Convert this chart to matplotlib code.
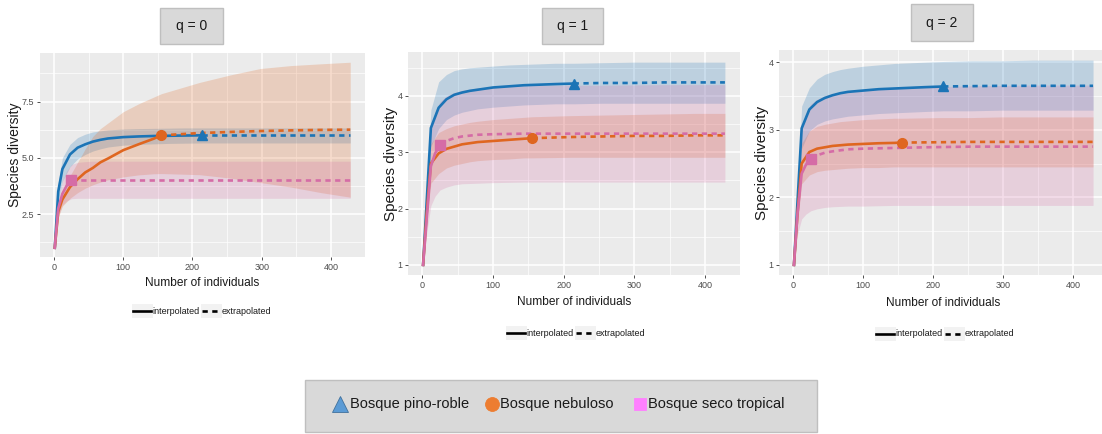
import matplotlib
matplotlib.use("Agg")
import matplotlib.pyplot as plt
from matplotlib.patches import Rectangle
from matplotlib.lines import Line2D
from matplotlib.ticker import MultipleLocator

plt.rcParams["font.family"] = ["Liberation Sans", "DejaVu Sans"]

W, H = 1102, 434

# sample-size knots per site (interpolated up to n, extrapolated after)
pr_n, nb_n, st_n = 214, 155, 25
pr_x = [1, 6, 12, 23, 34, 45, 56, 67, 78, 100, 122, 144, 166, 188, 214, 254, 298, 342, 386, 428]
nb_x = [1, 6, 12, 23, 34, 45, 56, 67, 78, 100, 122, 144, 155, 210, 254, 298, 342, 386, 428]
st_x = [1, 6, 12, 18, 25, 34, 45, 56, 78, 100, 144, 188, 254, 342, 428]

# q = 0 (richness)
pr_q0 = [1.0, 3.5, 4.5, 5.15, 5.45, 5.6, 5.72, 5.8, 5.86, 5.92, 5.95, 5.97, 5.98, 5.99, 6.0, 6.0, 6.0, 6.0, 6.0, 6.0]
pr_q0_lo = [1.0, 3.1, 3.95, 4.6, 4.95, 5.15, 5.3, 5.4, 5.48, 5.56, 5.6, 5.62, 5.64, 5.65, 5.66, 5.66, 5.66, 5.66, 5.66, 5.66]
pr_q0_hi = [1.0, 3.9, 5.0, 5.6, 5.9, 6.05, 6.15, 6.2, 6.24, 6.28, 6.3, 6.31, 6.32, 6.33, 6.33, 6.33, 6.33, 6.33, 6.33, 6.33]
nb_q0 = [1.0, 2.6, 3.15, 3.7, 4.05, 4.35, 4.55, 4.8, 4.97, 5.34, 5.6, 5.85, 6.0, 6.1, 6.15, 6.19, 6.22, 6.24, 6.25]
nb_q0_lo = [1.0, 2.35, 2.85, 3.2, 3.45, 3.65, 3.8, 3.92, 4.02, 4.15, 4.24, 4.29, 4.3, 4.25, 4.1, 3.9, 3.7, 3.45, 3.25]
nb_q0_hi = [1.0, 2.85, 3.45, 4.2, 4.8, 5.4, 5.95, 6.3, 6.55, 7.05, 7.4, 7.7, 7.85, 8.35, 8.68, 8.97, 9.1, 9.18, 9.25]
st_q0 = [1.0, 2.75, 3.4, 3.75, 4.0, 4.0, 4.0, 4.0, 4.0, 4.0, 4.0, 4.0, 4.0, 4.0, 4.0]
st_q0_lo = [1.0, 2.4, 2.9, 3.08, 3.18, 3.2, 3.2, 3.2, 3.2, 3.2, 3.2, 3.2, 3.2, 3.2, 3.2]
st_q0_hi = [1.0, 3.1, 3.95, 4.4, 4.7, 4.8, 4.83, 4.85, 4.85, 4.85, 4.85, 4.85, 4.85, 4.85, 4.85]

# q = 1 (Shannon)
pr_q1 = [1.0, 2.1, 3.43, 3.79, 3.94, 4.02, 4.06, 4.09, 4.11, 4.15, 4.17, 4.19, 4.2, 4.21, 4.22, 4.23, 4.23, 4.24, 4.24, 4.24]
pr_q1_lo = [1.0, 1.9, 3.1, 3.42, 3.58, 3.66, 3.71, 3.74, 3.77, 3.8, 3.82, 3.84, 3.85, 3.86, 3.86, 3.87, 3.87, 3.87, 3.87, 3.87]
pr_q1_hi = [1.0, 2.3, 3.75, 4.25, 4.38, 4.45, 4.48, 4.5, 4.51, 4.53, 4.55, 4.56, 4.57, 4.58, 4.58, 4.59, 4.6, 4.6, 4.6, 4.6]
nb_q1 = [1.0, 1.9, 2.8, 2.98, 3.06, 3.1, 3.14, 3.16, 3.18, 3.2, 3.22, 3.24, 3.25, 3.27, 3.28, 3.29, 3.29, 3.3, 3.3]
nb_q1_lo = [1.0, 1.75, 2.45, 2.62, 2.72, 2.77, 2.8, 2.83, 2.85, 2.87, 2.88, 2.9, 2.9, 2.91, 2.91, 2.91, 2.91, 2.91, 2.91]
nb_q1_hi = [1.0, 2.05, 3.15, 3.35, 3.42, 3.47, 3.5, 3.53, 3.55, 3.58, 3.6, 3.62, 3.63, 3.65, 3.66, 3.67, 3.68, 3.69, 3.69]
st_q1 = [1.0, 1.8, 2.75, 2.98, 3.13, 3.2, 3.25, 3.28, 3.31, 3.32, 3.33, 3.33, 3.33, 3.33, 3.33]
st_q1_lo = [1.0, 1.55, 2.05, 2.22, 2.33, 2.38, 2.42, 2.44, 2.45, 2.46, 2.47, 2.47, 2.47, 2.47, 2.47]
st_q1_hi = [1.0, 2.05, 3.45, 3.72, 3.9, 4.0, 4.06, 4.1, 4.14, 4.16, 4.18, 4.19, 4.19, 4.2, 4.2]

# q = 2 (Simpson)
pr_q2 = [1.0, 1.92, 3.02, 3.3, 3.41, 3.47, 3.51, 3.54, 3.56, 3.58, 3.6, 3.61, 3.62, 3.63, 3.64, 3.645, 3.65, 3.65, 3.65, 3.65]
pr_q2_lo = [1.0, 1.75, 2.72, 2.98, 3.08, 3.13, 3.16, 3.18, 3.2, 3.22, 3.24, 3.25, 3.26, 3.27, 3.28, 3.28, 3.29, 3.29, 3.29, 3.29]
pr_q2_hi = [1.0, 2.1, 3.35, 3.62, 3.75, 3.82, 3.86, 3.89, 3.91, 3.94, 3.96, 3.98, 3.99, 4.0, 4.01, 4.02, 4.02, 4.03, 4.03, 4.03]
nb_q2 = [1.0, 1.75, 2.5, 2.67, 2.72, 2.74, 2.76, 2.77, 2.78, 2.79, 2.8, 2.805, 2.81, 2.815, 2.82, 2.82, 2.82, 2.82, 2.82]
nb_q2_lo = [1.0, 1.6, 2.2, 2.33, 2.38, 2.4, 2.41, 2.42, 2.43, 2.44, 2.44, 2.45, 2.45, 2.45, 2.45, 2.45, 2.45, 2.45, 2.45]
nb_q2_hi = [1.0, 1.9, 2.8, 2.98, 3.05, 3.08, 3.1, 3.12, 3.13, 3.15, 3.16, 3.17, 3.17, 3.18, 3.18, 3.19, 3.19, 3.19, 3.19]
st_q2 = [1.0, 1.75, 2.35, 2.48, 2.57, 2.62, 2.66, 2.68, 2.71, 2.72, 2.73, 2.74, 2.75, 2.75, 2.75]
st_q2_lo = [1.0, 1.45, 1.68, 1.75, 1.8, 1.83, 1.85, 1.86, 1.87, 1.87, 1.88, 1.88, 1.88, 1.88, 1.88]
st_q2_hi = [1.0, 2.05, 3.02, 3.25, 3.38, 3.45, 3.5, 3.53, 3.57, 3.59, 3.62, 3.63, 3.65, 3.66, 3.66]

site_names = ["Bosque pino-roble", "Bosque nebuloso", "Bosque seco tropical"]
line_cols = ["#1B74B6", "#DF6620", "#D56CA6"]
key_cols = ["#5B9BD5", "#ED7D31", "#FF80FF"]
markers = ["^", "o", "s"]
orders = ["q = 0", "q = 1", "q = 2"]


def fx(x):
    return x / W


def fy(y):
    return 1 - y / H


def draw_site(ax, x, y, n, color, marker):
    i = x.index(n)
    ax.plot(x[:i + 1], y[:i + 1], color=color, lw=1.9, zorder=3)
    ax.plot(x[i:], y[i:], color=color, lw=1.9, ls=(0, (2, 1.7)), zorder=3)
    ax.plot([n], [y[i]], marker=marker, color=color, ms=7, zorder=4)


fig = plt.figure(figsize=(W / 100, H / 100), dpi=100)

panels = [
    dict(rect=(40, 53, 325, 204), ylim=(0.59, 9.66), ymaj=2.5, ymin=1.25,
         ylab_x=-0.076, xlab_y=-0.127, ylab_size=10,
         series=[(pr_x, pr_q0, pr_q0_lo, pr_q0_hi, pr_n),
                 (nb_x, nb_q0, nb_q0_lo, nb_q0_hi, nb_n),
                 (st_x, st_q0, st_q0_lo, st_q0_hi, st_n)],
         title=(160, 8, 63, 36), leg=(133, 311)),
    dict(rect=(408, 52, 332, 223), ylim=(0.82, 4.78), ymaj=1, ymin=0.5,
         ylab_x=-0.052, xlab_y=-0.121, ylab_size=11,
         series=[(pr_x, pr_q1, pr_q1_lo, pr_q1_hi, pr_n),
                 (nb_x, nb_q1, nb_q1_lo, nb_q1_hi, nb_n),
                 (st_x, st_q1, st_q1_lo, st_q1_hi, st_n)],
         title=(542, 8, 61, 36), leg=(507, 333)),
    dict(rect=(779, 50, 329, 225), ylim=(0.85, 4.18), ymaj=1, ymin=0.5,
         ylab_x=-0.052, xlab_y=-0.124, ylab_size=11,
         series=[(pr_x, pr_q2, pr_q2_lo, pr_q2_hi, pr_n),
                 (nb_x, nb_q2, nb_q2_lo, nb_q2_hi, nb_n),
                 (st_x, st_q2, st_q2_lo, st_q2_hi, st_n)],
         title=(911, 4, 62, 37), leg=(876, 334)),
]

for p, label in zip(panels, orders):
    left, top, w, h = p["rect"]
    ax = fig.add_axes([fx(left), fy(top + h), w / W, h / H])
    ax.set_facecolor("#EBEBEB")
    for s in ax.spines.values():
        s.set_visible(False)
    ax.set_xlim(-20.35, 449.35)
    ax.set_ylim(*p["ylim"])
    ax.xaxis.set_major_locator(MultipleLocator(100))
    ax.xaxis.set_minor_locator(MultipleLocator(50))
    ax.yaxis.set_major_locator(MultipleLocator(p["ymaj"]))
    ax.yaxis.set_minor_locator(MultipleLocator(p["ymin"]))
    ax.grid(which="major", color="white", lw=1.1)
    ax.grid(which="minor", color="white", lw=0.5)
    ax.set_axisbelow(True)
    ax.tick_params(which="major", length=2.5, width=0.6, color="#333333",
                   labelsize=6.5, labelcolor="#4D4D4D", pad=1.5)
    ax.tick_params(which="minor", length=0)
    if p["ymaj"] == 1:
        ax.yaxis.set_major_formatter(plt.FuncFormatter(lambda v, _: f"{v:.0f}"))

    # confidence bands under the curves
    for (x, y, lo, hi, n), c in zip(p["series"], line_cols):
        ax.fill_between(x, lo, hi, color=c, alpha=0.22, lw=0, zorder=2)
    for (x, y, lo, hi, n), c, m in zip(p["series"], line_cols, markers):
        draw_site(ax, x, y, n, c, m)

    ax.set_xlabel("Number of individuals", fontsize=8.6, color="#1a1a1a")
    ax.xaxis.set_label_coords(0.5, p["xlab_y"])
    ax.xaxis.label.set_va("center")
    ax.set_ylabel("Species diversity", fontsize=p["ylab_size"], color="#1a1a1a")
    ax.yaxis.set_label_coords(p["ylab_x"], 0.5)
    ax.yaxis.label.set_va("center")

    # order title box
    tx, ty, tw, th = p["title"]
    fig.add_artist(Rectangle((fx(tx), fy(ty + th)), tw / W, th / H,
                             transform=fig.transFigure, fc="#D9D9D9",
                             ec="#BFBFBF", lw=1))
    fig.text(fx(tx + tw / 2), fy(ty + th / 2), label, ha="center", va="center",
             fontsize=10, color="#1a1a1a")

    # interpolated / extrapolated key
    lx, ly = p["leg"]
    for kx in (lx - 1, lx + 68):
        fig.add_artist(Rectangle((fx(kx), fy(ly + 7)), 21 / W, 14 / H,
                                 transform=fig.transFigure, fc="#F2F2F2", lw=0))
    fig.add_artist(Line2D([fx(lx), fx(lx + 18)], [fy(ly), fy(ly)], color="black",
                          lw=1.9, transform=fig.transFigure))
    fig.text(fx(lx + 19), fy(ly), "interpolated", ha="left", va="center",
             fontsize=6.5, color="#1a1a1a")
    fig.add_artist(Line2D([fx(lx + 69), fx(lx + 88)], [fy(ly), fy(ly)],
                          color="black", lw=1.9, ls=(0, (2, 1.7)),
                          transform=fig.transFigure))
    fig.text(fx(lx + 89), fy(ly), "extrapolated", ha="left", va="center",
             fontsize=6.5, color="#1a1a1a")

# shared site legend
fig.add_artist(Rectangle((fx(305), fy(432)), 512 / W, 52 / H,
                         transform=fig.transFigure, fc="#D9D9D9", ec="#BFBFBF", lw=1))
key_pos = [(340, 350), (492, 500), (640, 648)]
key_ms = [11, 10, 9]
for (mx, tx), name, c, m, ms in zip(key_pos, site_names, key_cols, markers, key_ms):
    fig.add_artist(Line2D([fx(mx)], [fy(404)], marker=m, ms=ms, color=c, lw=0,
                          mec=c if m != "^" else "#41719C", mew=0.6,
                          transform=fig.transFigure))
    fig.text(fx(tx), fy(404), name, ha="left", va="center", fontsize=10.5,
             color="#1a1a1a")

fig.savefig("out.png", dpi=100)
